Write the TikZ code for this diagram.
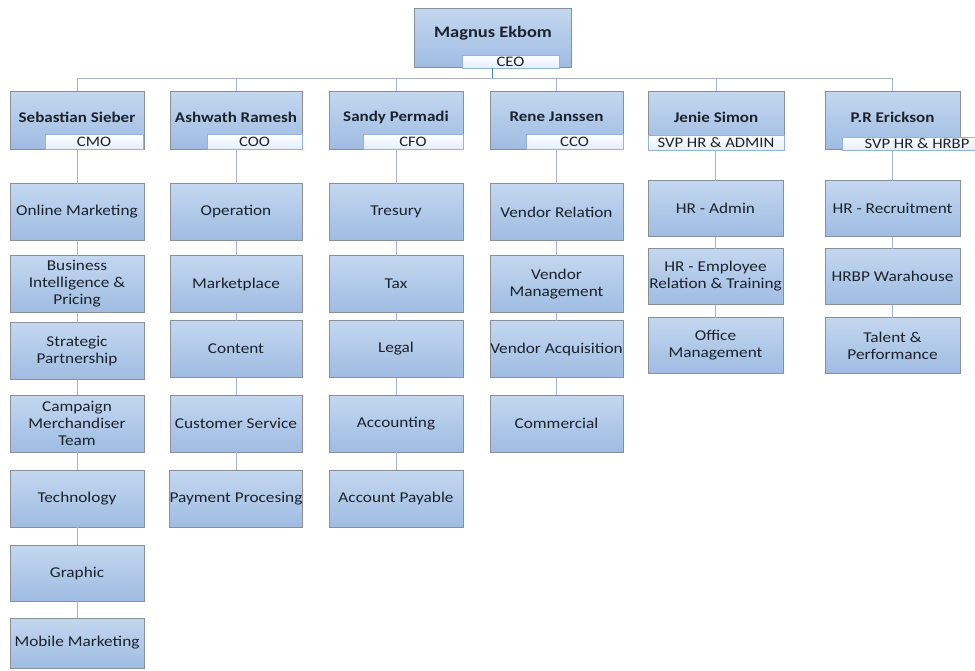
\documentclass[tikz,border=0pt]{standalone}
\usepackage{fontspec}
\setmainfont{Carlito}
\newfontfamily\orgfont[FakeStretch=1.15]{Carlito}
\begin{document}
\begin{tikzpicture}[x=1pt,y=-1pt,
  every node/.style={inner sep=0pt, outer sep=0pt},
  wire/.style={draw=wirecol, line width=0.7pt},
  box/.style={draw=boxline, line width=0.7pt, top color=boxtop, bottom color=boxbot, shading angle=0},
  dept/.style={box, align=center, text=txt, font=\orgfont\fontsize{15}{17}\selectfont, minimum height=57pt},
  exec/.style={box, minimum height=58pt},
  execname/.style={text=txt, font=\orgfont\bfseries\fontsize{14.8}{16}\selectfont},
  title/.style={draw=titleline, line width=0.6pt, top color=white, bottom color=titlebot, text=txt,
     font=\orgfont\fontsize{14.5}{15}\selectfont, minimum height=15pt}
]
\definecolor{wirecol}{HTML}{A4B6CE}
\definecolor{boxline}{HTML}{8A8F96}
\definecolor{boxtop}{HTML}{C4D7F0}
\definecolor{boxbot}{HTML}{9FBCE2}
\definecolor{titleline}{HTML}{95B3DA}
\definecolor{titlebot}{HTML}{E4EEFA}
\definecolor{txt}{HTML}{1A222C}
\definecolor{ceowire}{HTML}{4F81BD}
\useasboundingbox (0,0) rectangle (975,670);
\fill[white] (0,0) rectangle (975,670);

% CEO
\node[exec, minimum width=157pt, minimum height=59pt] (ceo) at (492.5,37.5) {};
\node[execname, font=\orgfont\bfseries\fontsize{16}{18}\selectfont] (ceon) at (493,33) {Magnus Ekbom};
\node[title, minimum width=97pt, minimum height=13pt] (ceot) at (510.5,61.5) {CEO};

% executives
\node[exec, minimum width=134pt] (e1) at (77,120) {};
\node[exec, minimum width=132pt] (e2) at (236,120) {};
\node[exec, minimum width=134pt] (e3) at (396,120) {};
\node[exec, minimum width=133pt] (e4) at (556.5,120) {};
\node[exec, minimum width=136pt] (e5) at (716,120) {};
\node[exec, minimum width=135pt] (e6) at (892.5,120) {};

\node[execname] (e1n) at (77,117) {Sebastian Sieber};
\node[execname] (e2n) at (236,117) {Ashwath Ramesh};
\node[execname] (e3n) at (396,117) {Sandy Permadi};
\node[execname] (e4n) at (556.5,117) {Rene Janssen};
\node[execname] (e5n) at (716,117) {Jenie Simon};
\node[execname] (e6n) at (892.5,117) {P.R Erickson};

\node[title, minimum width=98pt] (e1t) at (94,141.5) {CMO};
\node[title, minimum width=95pt] (e2t) at (254.5,141.5) {COO};
\node[title, minimum width=100pt] (e3t) at (413,141.5) {CFO};
\node[title, minimum width=97pt] (e4t) at (574.5,141.5) {CCO};
\node[title, minimum width=136pt] (e5t) at (716,142.5) {SVP HR \& ADMIN};
\node[title, minimum width=133pt, minimum height=13pt] (e6t) at (908.5,143.5) {\hspace*{17pt}SVP HR \& HRBP};

% column 1
\node[dept, minimum width=134pt] (a1) at (77,212) {Online Marketing};
\node[dept, minimum width=134pt] (a2) at (77,284) {Business\\Intelligence \&\\Pricing};
\node[dept, minimum width=134pt] (a3) at (77,351) {Strategic\\Partnership};
\node[dept, minimum width=134pt] (a4) at (77,423.5) {Campaign\\Merchandiser\\Team};
\node[dept, minimum width=134pt] (a5) at (77,498.5) {Technology};
\node[dept, minimum width=134pt, minimum height=56pt] (a6) at (77,573) {Graphic};
\node[dept, minimum width=134pt, minimum height=50pt] (a7) at (77,643) {Mobile Marketing};

% column 2
\node[dept, minimum width=132pt] (b1) at (236,212) {Operation};
\node[dept, minimum width=132pt] (b2) at (236,284) {Marketplace};
\node[dept, minimum width=132pt] (b3) at (236,349) {Content};
\node[dept, minimum width=132pt] (b4) at (236,423.5) {Customer Service};
\node[dept, minimum width=132pt] (b5) at (236,498.5) {Payment Procesing};

% column 3
\node[dept, minimum width=134pt] (c1) at (396,212) {Tresury};
\node[dept, minimum width=134pt] (c2) at (396,284) {Tax};
\node[dept, minimum width=134pt] (c3) at (396,349) {Legal};
\node[dept, minimum width=134pt] (c4) at (396,423.5) {Accounting};
\node[dept, minimum width=134pt] (c5) at (396,498.5) {Account Payable};

% column 4
\node[dept, minimum width=133pt] (d1) at (556.5,212) {Vendor Relation};
\node[dept, minimum width=133pt] (d2) at (556.5,284) {Vendor\\Management};
\node[dept, minimum width=133pt] (d3) at (556.5,349) {Vendor Acquisition};
\node[dept, minimum width=133pt] (d4) at (556.5,423.5) {Commercial};

% column 5
\node[dept, minimum width=135pt, minimum height=56pt] (f1) at (715.5,208.5) {HR - Admin};
\node[dept, minimum width=135pt, minimum height=56pt] (f2) at (715.5,276.5) {HR - Employee\\Relation \& Training};
\node[dept, minimum width=135pt, minimum height=56pt] (f3) at (715.5,345.5) {Office\\Management};

% column 6
\node[dept, minimum width=135pt, minimum height=56pt] (g1) at (892.5,208.5) {HR - Recruitment};
\node[dept, minimum width=135pt, minimum height=56pt] (g2) at (892.5,276.5) {HRBP Warahouse};
\node[dept, minimum width=135pt, minimum height=56pt] (g3) at (892.5,345.5) {Talent \&\\Performance};

% connectors
\coordinate (bus) at (0,78);
\draw[wire] (e1.north |- bus) -- (e6.north |- bus);
\foreach \e in {e1,e2,e3,e4,e5,e6} \draw[wire] (\e.north |- bus) -- (\e.north);
\draw[ceowire, line width=1.6pt] (ceot.south -| ceo.south) -- (ceo.south |- bus);

\draw[wire] (a1.north |- e1.south) -- (a1.north);
\draw[wire] (b1.north |- e2.south) -- (b1.north);
\draw[wire] (c1.north |- e3.south) -- (c1.north);
\draw[wire] (d1.north |- e4.south) -- (d1.north);
\draw[wire] (f1.north |- e5t.south) -- (f1.north);
\draw[wire] (g1.north |- e6t.south) -- (g1.north);

\draw[wire] (a1) -- (a2) (a2) -- (a3) (a3) -- (a4) (a4) -- (a5) (a5) -- (a6) (a6) -- (a7);
\draw[wire] (b1) -- (b2) (b2) -- (b3) (b3) -- (b4) (b4) -- (b5);
\draw[wire] (c1) -- (c2) (c2) -- (c3) (c3) -- (c4) (c4) -- (c5);
\draw[wire] (d1) -- (d2) (d2) -- (d3) (d3) -- (d4);
\draw[wire] (f1) -- (f2) (f2) -- (f3);
\draw[wire] (g1) -- (g2) (g2) -- (g3);
\end{tikzpicture}
\end{document}
